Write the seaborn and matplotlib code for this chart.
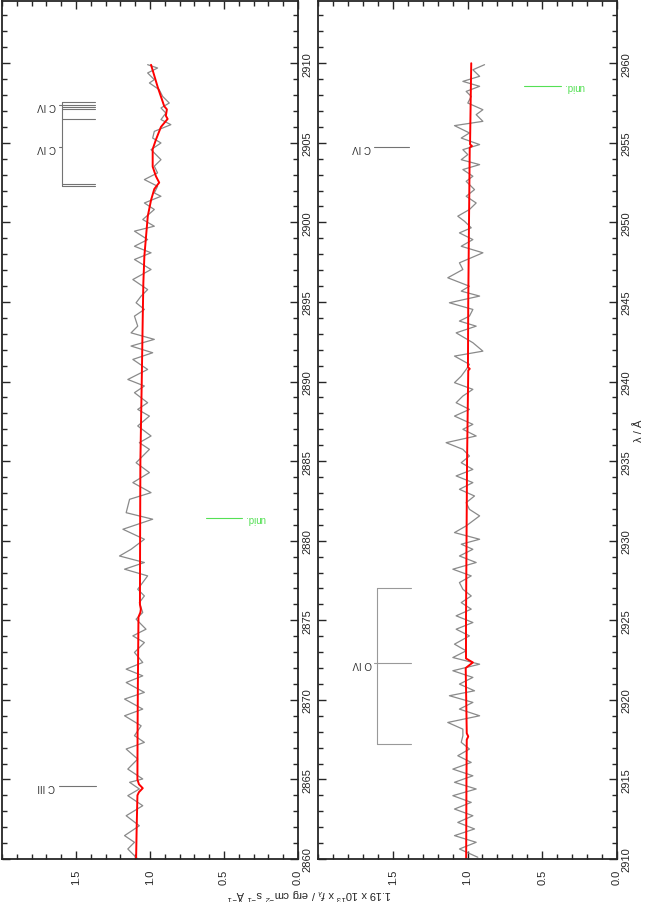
import matplotlib.pyplot as plt
import seaborn as sns
import numpy as np
import pandas as pd
from matplotlib.ticker import MultipleLocator, FixedLocator

sns.set_style("ticks")
plt.rcParams['font.family'] = ['Liberation Sans', 'DejaVu Sans']
plt.rcParams['mathtext.fontset'] = 'custom'
plt.rcParams['mathtext.rm'] = 'Liberation Sans'
plt.rcParams['mathtext.it'] = 'Liberation Sans:italic'

# --- observed spectrum, first range (wavelength / flux) ---
wave_obs_a = [2860.00, 2860.63, 2861.05, 2861.47, 2862.09, 2862.72, 2863.35, 2863.98, 2864.40, 2864.82,
              2865.03, 2865.65, 2866.28, 2866.91, 2867.33, 2867.75, 2868.37, 2869.00, 2869.42, 2870.05,
              2870.47, 2871.09, 2871.51, 2871.93, 2872.35, 2872.98, 2873.60, 2874.02, 2874.44, 2875.07,
              2875.49, 2876.11, 2876.53, 2876.95, 2877.79, 2878.21, 2878.63, 2879.04, 2879.46, 2880.09,
              2880.72, 2881.35, 2881.76, 2882.60, 2883.02, 2883.65, 2884.28, 2884.90, 2885.74, 2886.16,
              2886.58, 2887.21, 2887.83, 2888.25, 2888.67, 2889.30, 2889.72, 2890.13, 2890.76, 2891.39,
              2891.81, 2892.23, 2892.65, 2893.06, 2893.48, 2894.11, 2894.53, 2894.95, 2895.37, 2895.78,
              2896.41, 2897.04, 2897.67, 2898.09, 2898.50, 2898.92, 2899.45, 2899.76, 2900.18, 2900.81,
              2901.22, 2901.64, 2901.85, 2902.27, 2902.69, 2903.11, 2903.53, 2903.94, 2904.57, 2904.99,
              2905.30, 2905.72, 2906.14, 2906.46, 2906.87, 2907.19, 2907.50, 2907.92, 2908.34, 2908.76,
              2908.97, 2909.39, 2909.70, 2909.91]
flux_obs_a = [1.083, 1.150, 1.105, 1.172, 1.072, 1.161, 1.049, 1.150, 1.072, 1.138,
              1.049, 1.150, 1.083, 1.161, 1.038, 1.105, 1.060, 1.172, 1.049, 1.172,
              1.038, 1.161, 1.049, 1.161, 1.049, 1.105, 1.038, 1.116, 1.027, 1.094,
              1.049, 1.072, 1.038, 1.083, 1.016, 1.172, 1.038, 1.206, 1.128, 1.038,
              1.183, 0.982, 1.161, 1.138, 0.993, 1.116, 1.004, 1.094, 1.004, 1.072,
              0.993, 1.083, 1.004, 1.083, 1.016, 1.105, 1.038, 1.150, 1.016, 1.116,
              0.982, 1.128, 0.971, 1.128, 1.083, 1.105, 1.038, 1.094, 1.060, 1.016,
              1.116, 0.993, 1.105, 0.993, 1.105, 1.016, 1.105, 0.971, 1.049, 0.971,
              1.038, 0.926, 0.971, 0.949, 1.038, 0.949, 0.971, 0.926, 0.993, 0.926,
              0.982, 0.971, 0.859, 0.926, 0.893, 0.926, 0.870, 0.915, 0.938, 1.004,
              0.971, 1.016, 0.949, 1.016]

# --- model, first range ---
wave_mod_a = [2860.0, 2862.0, 2864.0, 2864.2, 2864.45, 2864.7, 2865.0, 2868.0, 2871.0, 2875.2,
              2875.5, 2875.7, 2876.0, 2880.0, 2885.0, 2887.8, 2889.9, 2894.1, 2896.2, 2897.9,
              2899.1, 2900.4, 2901.4, 2902.1, 2902.5, 2902.9, 2903.5, 2904.6, 2905.2, 2906.0,
              2906.5, 2906.7, 2907.1, 2907.3, 2908.5, 2909.9]
flux_mod_a = [1.094, 1.090, 1.085, 1.075, 1.049, 1.075, 1.085, 1.084, 1.082, 1.078,
              1.065, 1.062, 1.068, 1.067, 1.065, 1.060, 1.056, 1.049, 1.045, 1.038,
              1.027, 1.015, 0.993, 0.971, 0.938, 0.960, 0.982, 0.982, 0.960, 0.926,
              0.881, 0.893, 0.886, 0.904, 0.948, 0.993]

# --- observed spectrum, second range ---
wave_obs_b = [2910.11, 2910.63, 2911.05, 2911.47, 2911.89, 2912.30, 2912.72, 2913.14, 2913.56, 2913.98,
              2914.40, 2914.82, 2915.23, 2915.65, 2916.07, 2916.49, 2916.91, 2917.33, 2917.74, 2918.16,
              2918.58, 2919.00, 2919.42, 2919.84, 2920.26, 2920.57, 2920.99, 2921.41, 2921.83, 2922.24,
              2922.66, 2923.08, 2923.50, 2924.02, 2924.44, 2924.86, 2925.28, 2925.70, 2926.11, 2926.53,
              2926.95, 2927.37, 2927.79, 2928.21, 2928.63, 2929.04, 2929.46, 2929.78, 2930.09, 2930.51,
              2930.93, 2931.56, 2931.97, 2932.39, 2932.81, 2933.23, 2933.65, 2934.07, 2934.48, 2934.90,
              2935.32, 2935.74, 2936.16, 2936.58, 2937.00, 2937.31, 2937.83, 2938.25, 2938.67, 2939.09,
              2939.51, 2939.93, 2940.34, 2940.76, 2941.08, 2941.60, 2941.91, 2942.44, 2943.06, 2943.48,
              2943.80, 2944.11, 2944.53, 2944.95, 2945.37, 2945.68, 2945.99, 2946.52, 2947.04, 2947.46,
              2948.09, 2948.50, 2948.92, 2949.34, 2949.66, 2950.07, 2950.39, 2950.81, 2951.22, 2951.64,
              2952.06, 2952.58, 2952.90, 2953.32, 2953.63, 2953.94, 2954.26, 2954.57, 2954.89, 2955.30,
              2955.62, 2956.08, 2956.35, 2956.77, 2957.08, 2957.50, 2957.92, 2958.23, 2958.55, 2958.86,
              2959.18, 2959.59, 2959.91]
flux_obs_b = [0.931, 1.054, 0.942, 1.087, 0.953, 1.065, 0.964, 1.087, 0.975, 1.098,
              0.942, 1.087, 0.964, 1.098, 0.975, 1.065, 0.987, 1.042, 1.031, 1.031,
              1.132, 0.919, 1.054, 0.964, 1.121, 0.953, 1.054, 0.964, 1.098, 0.919,
              1.098, 1.009, 1.087, 0.987, 1.076, 0.964, 1.076, 0.975, 1.042, 0.975,
              1.031, 1.054, 0.975, 1.098, 0.942, 1.054, 0.964, 1.042, 0.919, 1.087,
              1.009, 0.919, 0.987, 1.009, 0.953, 1.054, 0.964, 1.076, 0.964, 1.042,
              0.987, 1.031, 1.143, 0.942, 1.031, 0.964, 1.087, 0.987, 1.076, 1.031,
              0.964, 1.087, 1.042, 1.009, 0.987, 1.087, 0.897, 0.964, 1.076, 0.942,
              1.054, 0.987, 0.964, 1.121, 0.919, 1.042, 0.987, 1.132, 1.031, 1.054,
              0.897, 1.042, 0.964, 1.054, 0.975, 1.020, 1.065, 0.987, 0.942, 1.009,
              0.953, 1.009, 0.964, 1.031, 0.919, 1.042, 0.998, 1.031, 0.919, 1.042,
              0.987, 1.087, 0.897, 0.942, 0.897, 0.998, 0.975, 1.009, 0.919, 1.031,
              0.919, 0.964, 0.886]

# --- model, second range ---
wave_mod_b = [2910.0, 2915.0, 2917.5, 2917.7, 2917.9, 2922.0, 2922.2, 2922.35, 2922.6, 2925.0,
              2935.0, 2940.7, 2940.8, 2940.9, 2945.0, 2950.0, 2954.7, 2954.8, 2954.9, 2960.0]
flux_mod_b = [1.009, 1.007, 1.005, 0.995, 1.005, 1.012, 0.985, 0.964, 1.010, 1.010,
              1.003, 0.995, 0.985, 0.997, 0.995, 0.990, 0.985, 0.970, 0.983, 0.975]

# --- line identifications ---
c3_wave = 2864.6
c4_upper_waves = [2907.58, 2907.39, 2907.27, 2907.14, 2906.50]
c4_lower_waves = [2902.44, 2902.31]
c4_label_waves = [2907.35, 2904.76]
unid_waves = [2881.4, 2958.6]
c4b_wave = 2954.76
o4_waves = [2927.0, 2922.3, 2917.2]

ylab = r'1.19 x 10$^{13}$ x $f_\lambda$ / erg cm$^{-2}$ s$^{-1}$ Å$^{-1}$'

fig = plt.figure(figsize=(6.48, 9.03), dpi=100)
ax1 = fig.add_axes([0.003, 0.0476, 0.457, 0.950])
ax2 = fig.add_axes([318 / 648, 0.0476, 299 / 648, 0.950])

panels = [
    (ax1, wave_obs_a, flux_obs_a, wave_mod_a, flux_mod_a, 2860),
    (ax2, wave_obs_b, flux_obs_b, wave_mod_b, flux_mod_b, 2910),
]
for ax, wo, fo, wm, fm, w0 in panels:
    obs = pd.DataFrame({'wave': wo, 'flux': fo})
    mod = pd.DataFrame({'wave': wm, 'flux': fm})
    sns.lineplot(data=obs, x='flux', y='wave', orient='y', sort=False, estimator=None,
                 color='#8a8a8a', lw=0.9, ax=ax)
    sns.lineplot(data=mod, x='flux', y='wave', orient='y', sort=False, estimator=None,
                 color='red', lw=1.4, ax=ax)
    ax.set_xlim(2.0, 0.0)
    ax.set_ylim(w0, w0 + 53.9)
    ax.xaxis.set_major_locator(FixedLocator([0.0, 0.5, 1.0, 1.5]))
    ax.xaxis.set_minor_locator(MultipleLocator(0.1))
    ax.yaxis.set_major_locator(MultipleLocator(5))
    ax.yaxis.set_minor_locator(MultipleLocator(1))
    ax.tick_params(which='both', direction='in', top=True, bottom=True, left=True, right=True,
                   labelleft=False, labelright=True, width=1.0, labelsize=8, pad=3)
    ax.tick_params(which='major', length=6)
    ax.tick_params(which='minor', length=3.5)
    ax.tick_params(axis='x', which='major', labelrotation=90, pad=7)
    ax.tick_params(axis='y', labelrotation=90)
    for lab in ax.get_yticklabels():
        lab.set_va('center')
    ax.xaxis.set_major_formatter(plt.FormatStrFormatter('%.1f'))
    ax.set_xlabel('')
    ax.set_ylabel('')
    for sp in ax.spines.values():
        sp.set_linewidth(1.3)
        sp.set_visible(True)

line_col = '0.45'
text_col = '0.2'
green = '#55e055'

# first panel labels
ax1.plot([1.617, 1.362], [c3_wave, c3_wave], color=line_col, lw=0.8)
ax1.text(1.70, c3_wave, 'C III', rotation=180, ha='center', va='center', fontsize=7, color=text_col)
ax1.plot([1.597, 1.597], [c4_lower_waves[-1], c4_upper_waves[0]], color=line_col, lw=0.8)
for w in c4_upper_waves + c4_lower_waves:
    ax1.plot([1.597, 1.369], [w, w], color=line_col, lw=0.8)
for w in c4_label_waves:
    ax1.plot([1.617, 1.597], [w, w], color=line_col, lw=0.8)
    ax1.text(1.70, w, 'C IV', rotation=180, ha='center', va='center', fontsize=7, color=text_col)
ax1.plot([0.624, 0.376], [unid_waves[0], unid_waves[0]], color=green, lw=0.8)
ax1.text(0.29, unid_waves[0], 'unid.', rotation=180, ha='center', va='center', fontsize=7, color=green)

# second panel labels
ax2.plot([1.624, 1.389], [c4b_wave, c4b_wave], color=line_col, lw=0.8)
ax2.text(1.71, c4b_wave, 'C IV', rotation=180, ha='center', va='center', fontsize=7, color=text_col)
ax2.plot([1.604, 1.604], [o4_waves[-1], o4_waves[0]], color='0.6', lw=0.8)
for w in o4_waves:
    ax2.plot([1.604, 1.376], [w, w], color='0.6', lw=0.8)
ax2.plot([1.624, 1.604], [o4_waves[1], o4_waves[1]], color='0.6', lw=0.8)
ax2.text(1.705, o4_waves[1], 'O IV', rotation=180, ha='center', va='center', fontsize=7, color=text_col)
ax2.plot([0.624, 0.376], [unid_waves[1], unid_waves[1]], color=green, lw=0.8)
ax2.text(0.29, unid_waves[1], 'unid.', rotation=180, ha='center', va='center', fontsize=7, color=green)

ax2.yaxis.set_label_position('right')
ax2.set_ylabel('λ / Å', rotation=90, fontsize=8, labelpad=2)

fig.text(0.478, 0.0085, ylab, rotation=180, ha='center', va='center', fontsize=8)

plt.savefig('out.png', dpi=100)
